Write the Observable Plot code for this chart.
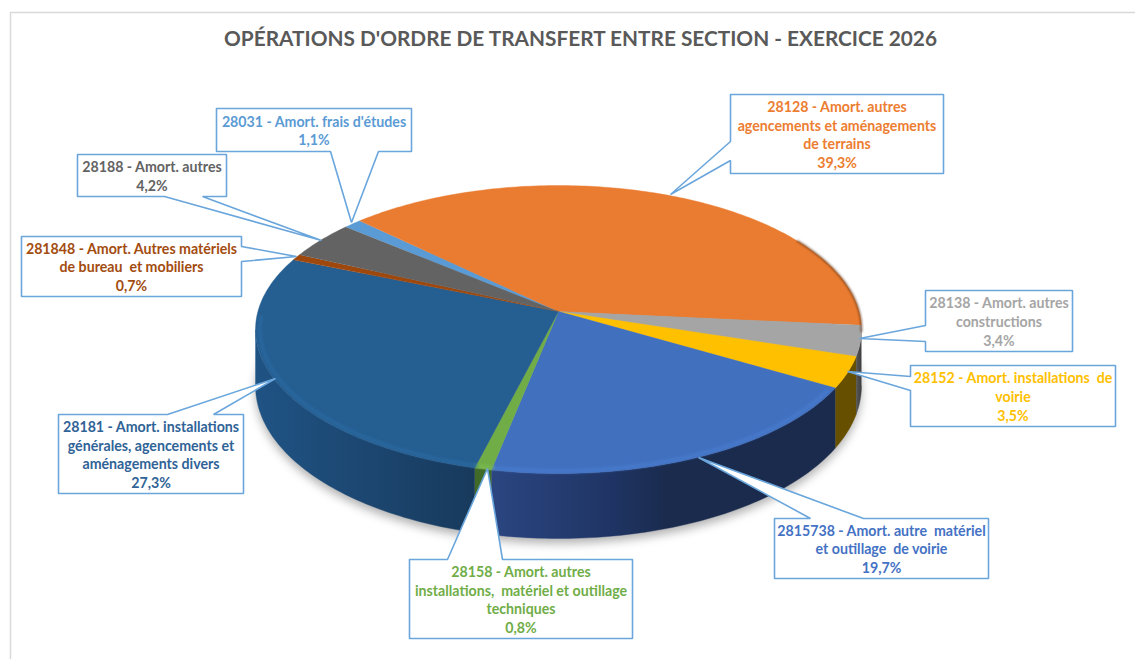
<!DOCTYPE html>
<html>
<head>
<meta charset="utf-8">
<script src="https://cdn.jsdelivr.net/npm/d3@7"></script>
<script src="https://cdn.jsdelivr.net/npm/@observablehq/plot@0.6"></script>
<style>
html,body{margin:0;padding:0;background:#fff}
svg{display:block}
</style>
</head>
<body>
<div id="chart"></div>
<script>
// --- chart values (clockwise, starting at the small blue slice)
const titleText = "OPÉRATIONS D'ORDRE DE TRANSFERT ENTRE SECTION - EXERCICE 2026";
const names = [
  "28031 - Amort. frais d'études",
  "28128 - Amort. autres\nagencements et aménagements\nde terrains",
  "28138 - Amort. autres\nconstructions",
  "28152 - Amort. installations  de\nvoirie",
  "2815738 - Amort. autre  matériel\net outillage  de voirie",
  "28158 - Amort. autres\ninstallations,  matériel et outillage\ntechniques",
  "28181 - Amort. installations\ngénérales, agencements et\naménagements divers",
  "281848 - Amort. Autres matériels\nde bureau  et mobiliers",
  "28188 - Amort. autres"
];
const shares = [1.1, 39.3, 3.4, 3.5, 19.7, 0.8, 27.3, 0.7, 4.2];

// --- styles
const faceColors = ["#5b9bd5","#ea7c31","#a5a5a5","#ffc000","#4170bf","#70ad47","#255e91","#9e480e","#636363"];
const textColors = ["#5b9bd5","#ed7d31","#a5a5a5","#ffc000","#4472c4","#70ad47","#2f6397","#a34c10","#636363"];
const wallFills  = ["#2e4f6e","#6e3a14","url(#wallGray)","#665000","url(#wallBlue)","#3f6a28","url(#wallNavy)","#5a2a08","#333333"];
const rimColors  = ["#6aa6dc","#f08a40","#b5b5b5","#ffca30","#4a7dd0","#7cbc50","#2b6ba3","#ad5518","#707070"];

// --- callout layout: box [left, right, top, bottom], pointer base pair and tip
const boxLeft   = [216, 730, 925, 910, 774, 409,  58,  21,  77];
const boxRight  = [411, 943,1072,1115, 988, 632, 243, 241, 226];
const boxTop    = [108,  94, 290, 365, 518, 559, 414, 236, 154];
const boxBottom = [151, 173, 351, 426, 578, 638, 493, 296, 196];
const boxSide   = ["bottom","left","left","left","top","top","top","right","bottom"];
const baseA     = [330, 141, 325, 376, 810, 447, 167, 246, 164];
const baseB     = [378, 160, 341, 390, 863, 502, 213, 261, 202];
const tipX      = [351, 670, 859, 847, 698, 487, 275, 296, 321];
const tipY      = [222, 194, 338, 371, 457, 468, 378, 256, 240];

// --- pie projection (tilted disc seen in perspective)
const cx = 558, cy = 311, R = 300.6, S = 141.75, P = 0.125;
const startAngle = 139.9;
const rad = Math.PI / 180;
const topPt = d => {
  const w = 1 + P * Math.sin(d * rad);
  return [R * Math.cos(d * rad) / w, S * Math.sin(d * rad) / w];
};
const lowPt = d => {
  const [a, b] = topPt(d);
  return [a, b - (55 - 10 * Math.sin(d * rad))];
};
const px = ([a, b], k = 0) => ({x: cx + a, y: cy - b + k});
const arc = (a, b) => {
  const n = Math.max(2, Math.ceil(Math.abs(b - a)));
  return d3.range(n + 1).map(i => a + (b - a) * i / n);
};

const total = d3.sum(shares);
let run = startAngle;
const slices = shares.map((v, i) => {
  const a = run; run -= v / total * 360;
  return {i, a, b: run};
});
const visMax = -7.2, visMin = -172.8;

const facePts = slices.flatMap(s => [
  {k: s.i, ...px([0, 0]), f: faceColors[s.i]},
  ...arc(s.a, s.b).map(d => ({k: s.i, ...px(topPt(d)), f: faceColors[s.i]}))
]);
const wallPts = slices.flatMap(s => {
  const a = Math.min(s.a, visMax), b = Math.max(s.b, visMin);
  if (a <= b) return [];
  const ds = arc(a, b);
  return [
    ...ds.map(d => ({k: s.i, ...px(topPt(d)), f: wallFills[s.i]})),
    ...ds.slice().reverse().map(d => ({k: s.i, ...px(lowPt(d)), f: wallFills[s.i]}))
  ];
});
const shadowPts = arc(0, -360).map(d => ({...px(lowPt(d), 5)}));
const rimPts = slices.flatMap(s => {
  const a = Math.min(s.a, -32), b = Math.max(s.b, -178);
  if (a <= b) return [];
  return arc(a, b).map(d => {
    const [u, v] = topPt(d);
    return {k: s.i, ...px([u * 0.985, v * 0.985]), f: rimColors[s.i]};
  });
});
const edgePts = arc(32, -8).map(d => ({...px(topPt(d))}));

// --- callouts
const calloutPts = names.flatMap((_, i) => {
  const l = boxLeft[i], r = boxRight[i], t = boxTop[i], b = boxBottom[i];
  const A = baseA[i], B = baseB[i], tip = [tipX[i], tipY[i]];
  let ring;
  if (boxSide[i] === "top")         ring = [[l,t],[A,t],tip,[B,t],[r,t],[r,b],[l,b]];
  else if (boxSide[i] === "bottom") ring = [[l,t],[r,t],[r,b],[B,b],tip,[A,b],[l,b]];
  else if (boxSide[i] === "left")   ring = [[l,t],[r,t],[r,b],[l,b],[l,B],tip,[l,A]];
  else                              ring = [[l,t],[r,t],[r,A],tip,[r,B],[r,b],[l,b]];
  ring.push(ring[0]);
  return ring.map(([x, y]) => ({k: i, x, y}));
});
const fmt = v => v.toFixed(1).replace(".", ",") + "%";
const labels = names.map((n, i) => ({
  x: (boxLeft[i] + boxRight[i]) / 2,
  y: (boxTop[i] + boxBottom[i]) / 2,
  t: n + "\n" + fmt(shares[i]),
  c: textColors[i]
}));

// --- gradients for the side wall
const grad = (id, x1, x2, stops) => {
  const g = `<linearGradient id="${id}" gradientUnits="userSpaceOnUse" x1="${x1}" x2="${x2}" y1="0" y2="0">` +
    stops.map(([o, c]) => `<stop offset="${o}" stop-color="${c}"/>`).join("") + `</linearGradient>`;
  return g;
};
const defsMark = () => {
  const d = document.createElementNS("http://www.w3.org/2000/svg", "defs");
  d.innerHTML =
    grad("wallBlue", 495, 835, [[0,"#2a4580"],[0.35,"#1f3463"],[0.5,"#1a2b4e"],[1,"#1a2b4d"]]) +
    grad("wallNavy", 255, 480, [[0,"#1f5384"],[0.5,"#1c4670"],[1,"#17395b"]]) +
    grad("wallGray", 852, 864, [[0,"#6a6a6a"],[1,"#2e2e2e"]]);
  return d;
};

const font = "Lato, 'Open Sans', sans-serif";
const chart = Plot.plot({
  width: 1135, height: 659,
  margin: 0,
  style: {background: "#fff", fontFamily: font},
  x: {domain: [0, 1135], range: [0, 1135], axis: null},
  y: {domain: [0, 659], range: [0, 659], axis: null},
  color: {type: "identity"},
  marks: [
    defsMark,
    // chart frame
    Plot.ruleY([12], {x1: 10, x2: 1135, stroke: "#d9d9d9", strokeWidth: 1.5}),
    Plot.ruleX([10], {y1: 12, y2: 659, stroke: "#d9d9d9", strokeWidth: 1.5}),
    // soft shadow under the disc
    Plot.line(shadowPts, {x: "x", y: "y", fill: "#000", fillOpacity: 0.3, stroke: "none", imageFilter: "blur(5px)"}),
    // side wall
    Plot.line(wallPts, {x: "x", y: "y", z: "k", fill: "f", stroke: "f", strokeWidth: 0.4}),
    // top face
    Plot.line(facePts, {x: "x", y: "y", z: "k", fill: "f", stroke: "f", strokeWidth: 0.4}),
    // darker edge at the far right of the orange slice
    Plot.line(edgePts, {x: "x", y: "y", stroke: "#5a3010", strokeWidth: 1.6, strokeOpacity: 0.8, imageFilter: "blur(0.8px)"}),
    // bevel highlight along the near rim
    Plot.line(rimPts, {x: "x", y: "y", z: "k", stroke: "f", strokeWidth: 3.5, strokeOpacity: 0.75, imageFilter: "blur(1.8px)"}),
    // callouts
    Plot.line(calloutPts, {x: "x", y: "y", z: "k", fill: "#fff", stroke: "#6aa6dc", strokeWidth: 1.6, strokeLinejoin: "miter"}),
    Plot.text(labels, {x: "x", y: "y", text: "t", fill: "c", fontSize: 14.2, fontWeight: 700, lineHeight: 1.31, textAnchor: "middle", lineAnchor: "middle", fontFamily: font}),
    // title
    Plot.text([titleText], {x: 580, y: 39, text: d => d, fill: "#595959", fontSize: 20.8, fontWeight: 700, textAnchor: "middle", fontFamily: font})
  ]
});
document.getElementById("chart").appendChild(chart);
</script>
</body>
</html>
